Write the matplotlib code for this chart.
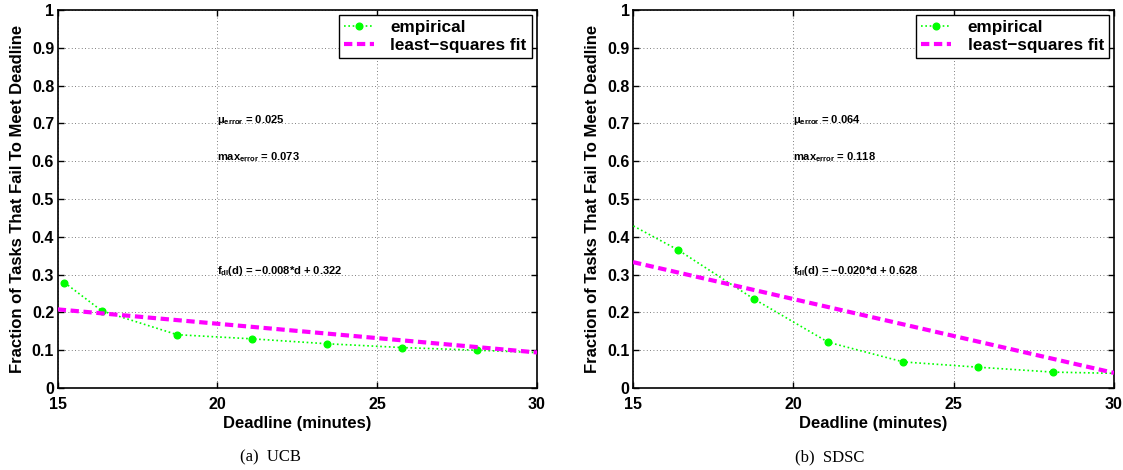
import matplotlib
matplotlib.use("Agg")
import matplotlib.pyplot as plt

plt.rcParams['font.family'] = ['Liberation Sans', 'DejaVu Sans']
plt.rcParams['mathtext.fontset'] = 'custom'
plt.rcParams['mathtext.rm'] = 'Liberation Sans:bold'
plt.rcParams['mathtext.bf'] = 'Liberation Sans:bold'
plt.rcParams['mathtext.it'] = 'Liberation Sans:bold'

# ---- data ----
ucb_deadline = [15.21, 16.38, 18.74, 21.09, 23.44, 25.78, 28.13, 30.47]
ucb_fraction = [0.279, 0.204, 0.141, 0.130, 0.117, 0.107, 0.100, 0.092]
ucb_fit_x = [15, 30]
ucb_fit_y = [0.208, 0.094]

sdsc_deadline = [14.06, 16.41, 18.76, 21.09, 23.43, 25.77, 28.11, 30.47]
sdsc_fraction = [0.472, 0.365, 0.236, 0.121, 0.069, 0.055, 0.042, 0.038]
sdsc_fit_x = [15, 30]
sdsc_fit_y = [0.333, 0.040]

ucb_notes = [r'$\mu_{error}$ = 0.025', r'$max_{error}$ = 0.073', r'$f_{dl}(d)$ = $-$0.008*d + 0.322']
sdsc_notes = [r'$\mu_{error}$ = 0.064', r'$max_{error}$ = 0.118', r'$f_{dl}(d)$ = $-$0.020*d + 0.628']
note_y = [0.71, 0.61, 0.31]

captions = ['(a)  UCB', '(b)  SDSC']
xticks = [15, 20, 25, 30]
yticks = [0, 0.1, 0.2, 0.3, 0.4, 0.5, 0.6, 0.7, 0.8, 0.9, 1]
ytick_labels = ['0', '0.1', '0.2', '0.3', '0.4', '0.5', '0.6', '0.7', '0.8', '0.9', '1']

fig = plt.figure(figsize=(11.23, 4.70), dpi=100)
W, H = 1123, 470
ax1 = fig.add_axes([57.7 / W, (470 - 388) / H, (537 - 57.7) / W, 378 / H])
ax2 = fig.add_axes([633 / W, (470 - 388) / H, (1114 - 633) / W, 378 / H])

panels = [
    (ax1, ucb_deadline, ucb_fraction, ucb_fit_x, ucb_fit_y, ucb_notes),
    (ax2, sdsc_deadline, sdsc_fraction, sdsc_fit_x, sdsc_fit_y, sdsc_notes),
]

for ax, dx, dy, fx, fy, notes in panels:
    ax.plot(dx, dy, color=(0, 1, 0), linestyle=(0, (1, 1.6)), linewidth=1.2,
            marker='o', markersize=4.8, markeredgecolor=(0, 1, 0),
            markerfacecolor=(0, 1, 0), label='empirical', zorder=3)
    ax.plot(fx, fy, color=(1, 0, 1), linestyle=(0, (2.0, 1.1)), linewidth=3,
            label='least\u2212squares fit', zorder=4)
    ax.set_xlim(15, 30)
    ax.set_ylim(0, 1)
    ax.set_xticks(xticks)
    ax.set_xticklabels([str(t) for t in xticks])
    ax.set_yticks(yticks)
    ax.set_yticklabels(ytick_labels)
    ax.tick_params(direction='in', length=4, width=1, top=True, right=True,
                   labelsize=11.5)
    ax.tick_params(axis='x', pad=6.5)
    ax.tick_params(axis='y', pad=2.5)
    for lab in ax.get_xticklabels() + ax.get_yticklabels():
        lab.set_fontweight('bold')
    for sp in ax.spines.values():
        sp.set_linewidth(1.2)
    ax.grid(True, color='#555555', linestyle=(0, (1, 3)), linewidth=0.6)
    ax.set_axisbelow(True)
    ax.set_xlabel('Deadline (minutes)', fontsize=12, fontweight='bold', labelpad=3)
    ax.set_ylabel('Fraction of Tasks That Fail To Meet Deadline', fontsize=12,
                  fontweight='bold', labelpad=5)
    for t, yy in zip(notes, note_y):
        ax.text(20, yy, t, fontsize=8, fontweight='bold', va='center', ha='left')
    leg = ax.legend(loc='upper right', fontsize=12.3, frameon=True, fancybox=False,
                    edgecolor='black', framealpha=1, borderpad=0.3,
                    handlelength=1.75, handletextpad=0.95, labelspacing=0.15,
                    borderaxespad=0.3)
    leg.get_frame().set_linewidth(1.0)
    for txt in leg.get_texts():
        txt.set_fontweight('bold')

fig.text(270 / W, 1 - 457 / H, captions[0], fontsize=12, family='Liberation Serif',
         ha='center', va='center')
fig.text(830 / W, 1 - 457 / H, captions[1], fontsize=12, family='Liberation Serif',
         ha='center', va='center')

fig.savefig('out.png', dpi=100)
